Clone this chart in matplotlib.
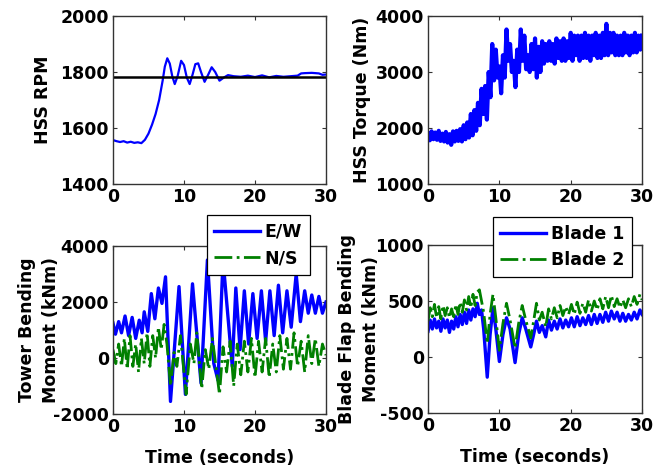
import numpy as np
import matplotlib
matplotlib.use("Agg")
import matplotlib.pyplot as plt

plt.rcParams["font.family"] = ["DejaVu Sans"]
plt.rcParams["font.weight"] = "bold"
plt.rcParams["font.size"] = 12.5
plt.rcParams["axes.unicode_minus"] = False

BLUE = "#0000FF"
GREEN = "#008000"

# ---- HSS RPM ----
rpm_t = [0, 0.5, 1, 1.5, 2, 2.5, 3, 3.5, 4, 4.5, 5, 5.5, 6, 6.5, 7, 7.3, 7.65,
         8.0, 8.35, 8.7, 9.1, 9.6, 10.0, 10.4, 10.8, 11.2, 11.6, 12.0, 12.4,
         12.9, 13.4, 13.9, 14.4, 15.0, 15.6, 16.2, 17, 18, 19, 20, 21, 22, 23,
         24, 25, 26, 26.5, 27, 28, 29, 29.5, 30]
rpm = [1557, 1553, 1550, 1553, 1548, 1551, 1547, 1549, 1546, 1558, 1580, 1612,
       1650, 1700, 1770, 1819, 1849, 1830, 1785, 1757, 1785, 1840, 1825, 1780,
       1757, 1790, 1828, 1831, 1800, 1765, 1790, 1817, 1800, 1769, 1780, 1789,
       1785, 1783, 1787, 1782, 1788, 1781, 1786, 1783, 1785, 1787, 1795, 1796,
       1797, 1795, 1790, 1791]
rpm_ref = 1783

# ---- HSS torque, 0.25 s samples across the noisy band ----
torque = [1900, 1780, 1940, 1800, 1920, 1790, 1950, 1770,
          1900, 1760, 1930, 1740, 1890, 1700, 1940, 1760,
          1950, 1770, 1980, 1760, 2050, 1800, 2100, 1830,
          2250, 1870, 2320, 1950, 2450, 2050, 2700, 2250,
          2750, 2150, 3000, 2550, 3500, 2850, 3400, 2900,
          3100, 2620, 3300, 2900, 3760, 3200, 3500, 3000,
          3200, 2730, 3400, 3000, 3760, 3200, 3650, 3050,
          3300, 3000, 3500, 3050, 3600, 2900, 3450, 3000,
          3550, 3150, 3500, 3200, 3550, 3200, 3500, 3150,
          3600, 3250, 3550, 3200, 3600, 3200, 3550, 3250,
          3700, 3200, 3650, 3300, 3650, 3200, 3650, 3250,
          3700, 3250, 3650, 3200, 3650, 3300, 3700, 3250,
          3650, 3250, 3700, 3300, 3860, 3300, 3700, 3350,
          3700, 3300, 3650, 3300, 3650, 3300, 3700, 3350,
          3650, 3300, 3650, 3350, 3700, 3350, 3650, 3400,
          3650]
torque_t = [0.25 * i for i in range(len(torque))]

# ---- Tower bending moment (peaks / troughs) ----
ew_t = [0.0, 0.35, 0.8, 1.2, 1.7, 2.2, 2.7, 3.2, 3.7, 4.1, 4.4, 4.9, 5.4, 5.9,
        6.4, 6.9, 7.4, 8.1, 9.3, 10.2, 11.2, 12.4, 13.3, 14.2, 14.8, 15.5,
        16.8, 17.3, 17.9, 18.5, 19.1, 19.7, 20.3, 20.9, 21.5, 22.1, 22.7,
        23.3, 23.9, 24.5, 25.1, 25.8, 26.4, 27.0, 27.5, 28.0, 28.5, 29.0,
        29.5, 30.0]
ew = [1250, 850, 1300, 900, 1500, 800, 1450, 700, 1350, 900, 1650, 950, 2300,
      1400, 2500, 1950, 2900, -1550, 2550, -1300, 2650, -900, 3500, -200,
      -800, 3500, -300, 2500, 300, 2400, 500, 2300, 700, 2400, 600, 2400,
      800, 2600, 900, 2400, 1100, 3000, 1300, 2400, 1600, 2250, 1600, 2200,
      1600, 2000]
ns_t = [0, 0.4, 0.8, 1.2, 1.6, 2.0, 2.4, 2.8, 3.2, 3.6, 4.0, 4.4, 4.8, 5.2,
        5.6, 6.0, 6.4, 6.8, 7.2, 7.6, 8.1, 8.6, 9.0, 9.5, 10.3, 10.9, 11.4,
        11.8, 12.5, 13.0, 13.5, 14.0, 14.5, 15.0, 15.5, 16.0, 16.5, 17.0,
        17.5, 18.0, 18.5, 19.0, 19.5, 20.0, 20.5, 21.0, 21.5, 22.0, 22.5,
        23.0, 23.5, 24.0, 24.5, 25.0, 25.5, 26.0, 26.5, 27.0, 27.5, 28.0,
        28.5, 29.0, 29.5, 30]
ns = [300, -200, 500, -300, 700, -400, 800, -300, 500, -500, 700, -200, 900,
      -300, 800, 0, 1100, 300, 1200, 500, -1000, 200, -300, 800, -1300, 500,
      -200, 900, -1100, 300, -400, 700, -300, -1300, 400, -500, 600, -1000,
      500, -600, 600, -500, 700, -700, 600, -500, 700, -700, 500, -500, 800,
      -400, 700, -400, 900, -300, 600, -500, 800, -200, 700, -300, 500, 100]

# ---- Blade flap bending moment ----
blade_t = [0, 0.3, 0.6, 0.9, 1.2, 1.5, 1.8, 2.1, 2.4, 2.7, 3.0, 3.3, 3.6, 3.9,
           4.2, 4.5, 4.8, 5.1, 5.4, 5.7, 6.0, 6.3, 6.6, 6.9, 7.2, 7.5, 7.8,
           8.3, 8.7, 9.1, 9.5, 10.0, 10.5, 11.0, 11.5, 12.2, 12.7, 13.2, 13.7,
           14.4, 14.8, 15.2, 15.6, 16.0, 16.5, 16.9, 17.3, 17.7, 18.1, 18.5,
           18.9, 19.3, 19.7, 20.1, 20.5, 20.9, 21.3, 21.7, 22.1, 22.5, 22.9,
           23.3, 23.7, 24.1, 24.5, 24.9, 25.3, 25.7, 26.1, 26.5, 26.9, 27.3,
           27.7, 28.1, 28.5, 28.9, 29.3, 29.7, 30]
blade1 = [230, 330, 250, 340, 260, 320, 230, 340, 260, 330, 220, 320, 250, 360,
          270, 380, 290, 400, 300, 420, 330, 430, 360, 480, 380, 420, 250, -180,
          200, 440, 250, -40, 200, 350, 250, -50, 200, 350, 250, 90, 200, 320,
          220, 280, 180, 330, 240, 320, 250, 340, 260, 330, 270, 350, 270, 360,
          280, 350, 290, 370, 290, 380, 300, 380, 310, 400, 320, 410, 340, 400,
          320, 390, 320, 380, 330, 400, 340, 420, 380]
blade2 = [320, 440, 360, 470, 350, 450, 340, 460, 370, 440, 350, 430, 360, 470,
          380, 490, 400, 510, 420, 540, 440, 560, 460, 580, 600, 500, 400, 120,
          380, 560, 350, 60, 300, 480, 330, 80, 300, 460, 330, 170, 320, 480,
          330, 400, 270, 430, 340, 440, 350, 460, 370, 450, 380, 470, 380, 490,
          390, 480, 400, 510, 410, 500, 420, 520, 430, 540, 440, 550, 450, 520,
          440, 510, 440, 520, 450, 540, 470, 560, 510]


def style(ax, yticks):
    ax.set_xlim(0, 30)
    ax.set_xticks([0, 10, 20, 30])
    ax.set_ylim(yticks[0], yticks[-1])
    ax.set_yticks(yticks)
    ax.tick_params(direction="in", top=True, right=True, length=3,
                   width=0.8, color="#333333", labelsize=12.5, pad=3)
    for s in ax.spines.values():
        s.set_color("#333333")
        s.set_linewidth(1.0)


def legend(ax, anchor):
    leg = ax.legend(loc="upper right", bbox_to_anchor=anchor,
                    fancybox=False, framealpha=1, edgecolor="black",
                    handlelength=2.6, borderpad=0.45, labelspacing=0.5,
                    handletextpad=0.3, borderaxespad=0,
                    prop={"weight": "bold", "size": 12.5})
    leg.get_frame().set_linewidth(0.9)
    return leg


fig = plt.figure(figsize=(6.63, 4.71), dpi=100)
ax1 = fig.add_axes([0.1704, 0.6093, 0.3213, 0.3567])
ax2 = fig.add_axes([0.6456, 0.6093, 0.3228, 0.3567])
ax3 = fig.add_axes([0.1704, 0.1210, 0.3213, 0.3567])
ax4 = fig.add_axes([0.6456, 0.1231, 0.3228, 0.3567])

ax1.plot(rpm_t, rpm, color=BLUE, lw=1.6)
ax1.axhline(rpm_ref, color="black", lw=1.8)
style(ax1, [1400, 1600, 1800, 2000])
ax1.set_ylabel("HSS RPM", fontweight="bold", labelpad=6)

ax2.plot(torque_t, torque, color=BLUE, lw=3.0)
style(ax2, [1000, 2000, 3000, 4000])
ax2.set_ylabel("HSS Torque (Nm)", fontweight="bold", labelpad=3)

ax3.plot(ew_t, ew, color=BLUE, lw=2.4, label="E/W")
ax3.plot(ns_t, ns, color=GREEN, lw=2.0, ls="-.", label="N/S")
style(ax3, [-2000, 0, 2000, 4000])
ax3.set_ylabel("Tower Bending\nMoment (kNm)", fontweight="bold",
               linespacing=1.42, labelpad=-5)
ax3.set_xlabel("Time (seconds)", fontweight="bold", labelpad=9)
legend(ax3, (0.925, 1.185))

ax4.plot(blade_t, blade1, color=BLUE, lw=2.4, label="Blade 1")
ax4.plot(blade_t, blade2, color=GREEN, lw=2.0, ls="-.", label="Blade 2")
style(ax4, [-500, 0, 500, 1000])
ax4.set_ylabel("Blade Flap Bending\nMoment (kNm)", fontweight="bold",
               linespacing=1.42, labelpad=-3)
ax4.set_xlabel("Time (seconds)", fontweight="bold", labelpad=9)
legend(ax4, (0.953, 1.167))

fig.savefig("out.png", dpi=100, facecolor="white")
